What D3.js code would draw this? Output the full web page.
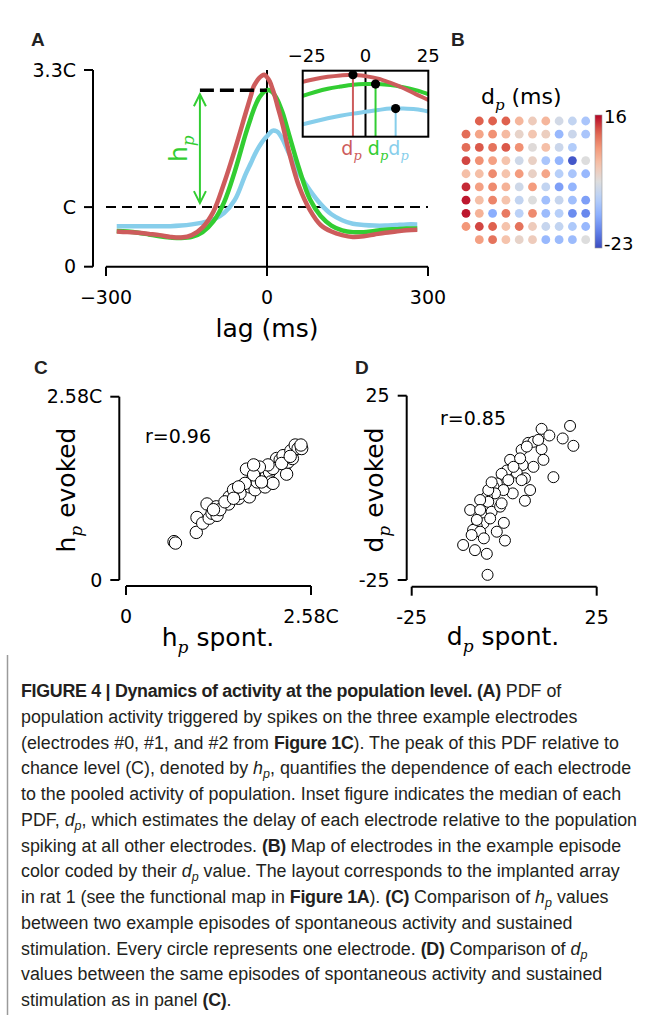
<!DOCTYPE html>
<html>
<head>
<meta charset="utf-8">
<script src="https://cdn.jsdelivr.net/npm/d3@7"></script>
<style>
  body { margin: 0; background: #fff; }
  svg { display: block; }
  text { white-space: pre; }
</style>
</head>
<body>
<svg id="fig" width="655" height="1015"></svg>
<script>
// ---- panel A : PDF of population activity (units of C) ----
const lags = [-280, -260, -240, -220, -200, -180, -160, -140, -120, -100, -80, -60, -40, -30, -25, -20, -15, -10, -5, 0,
  5, 10, 15, 20, 25, 30, 40, 60, 80, 100, 120, 140, 160, 180, 200, 220, 240, 260, 280];
const pdfRed = [0.59, 0.58, 0.57, 0.55, 0.53, 0.50, 0.49, 0.53, 0.66, 0.92, 1.40, 1.96, 2.57, 2.87, 3.02, 3.10, 3.16, 3.20, 3.22, 3.18,
  3.11, 2.99, 2.85, 2.68, 2.52, 2.35, 1.96, 1.34, 0.95, 0.70, 0.59, 0.53, 0.50, 0.51, 0.54, 0.57, 0.59, 0.61, 0.62];
const pdfGreen = [0.60, 0.59, 0.57, 0.54, 0.51, 0.49, 0.48, 0.50, 0.58, 0.76, 1.08, 1.60, 2.22, 2.50, 2.63, 2.74, 2.83, 2.89, 2.94, 2.96,
  2.96, 2.93, 2.87, 2.79, 2.68, 2.56, 2.25, 1.64, 1.13, 0.85, 0.69, 0.61, 0.58, 0.58, 0.60, 0.62, 0.63, 0.64, 0.64];
const pdfBlue = [0.68, 0.68, 0.68, 0.68, 0.68, 0.68, 0.69, 0.71, 0.74, 0.79, 0.90, 1.12, 1.55, 1.74, 1.84, 1.93, 2.01, 2.08, 2.14, 2.19,
  2.24, 2.28, 2.28, 2.26, 2.20, 2.12, 1.92, 1.56, 1.28, 1.05, 0.88, 0.78, 0.72, 0.70, 0.69, 0.69, 0.70, 0.71, 0.71];
const dpMedian = [-5, 4, 12];          // red, green, blue (ms)
const hpLagMark = -125;                // where the h_p arrow sits
const xTicksA = [-300, 0, 300];
const yTicksA = [0, 1, 3.3];
const yTickLabelsA = ["0", "C", "3.3C"];
const insetTicks = [-25, 0, 25];

// ---- panel B : d_p per electrode (ms), null = no electrode ----
const dpGrid = [
  [null, 11, 11, 11, 3, 0, 3, -5, -7, -10],
  [10, 5, 7, 2.5, -1.5, 1, -0.5, -12, -6, -10],
  [10, 11.5, 9.5, 11.5, 7, -3, 2, -6, -9, null],
  [12.5, 7, 5.5, 1.5, -5.5, -1, -10, -12.5, -22, -3.5],
  [2, 2, 7.5, 1.5, 6, -1, 5, -8.5, -10, -12],
  [14, 5.5, 7.5, 3.5, -5.5, 6, -7, -15, -12.5, null],
  [15, 2, 8, 1.5, -7, -3.5, -11, -6.5, -11, -15],
  [15, 3.5, -13.5, 9, -8, 7.5, -11.5, -8.5, -17, -17.5],
  [6.5, 12.5, 11, 1.5, 9.5, 0, -6.5, -7, -9.5, -12],
  [null, 5.5, 9.5, 1.5, -1.5, 0, -12, -11.5, -11.5, -3.5]
];
const cbarTicks = [16, -23];

// ---- panel C : h_p spontaneous vs evoked (units of C) ----
const hpSpont = [0.67, 0.69, 0.98, 0.99, 1.07, 1.13, 1.16, 1.20, 1.26, 1.27, 1.43, 1.44, 1.53, 1.57, 1.61, 1.68, 1.72, 1.73, 1.77, 1.80,
  1.82, 1.83, 1.87, 1.91, 1.94, 1.96, 2.00, 2.02, 2.05, 2.08, 2.10, 2.15, 2.19, 2.22, 2.24, 2.26, 2.30, 2.32, 2.36, 2.40,
  2.45, 2.44, 2.05, 1.98, 1.86, 1.78, 1.66, 1.59, 1.50, 1.31, 1.22, 1.38, 1.78, 2.17, 2.29, 1.89, 1.57, 1.50];
const hpEvoked = [0.54, 0.52, 0.67, 0.88, 0.80, 1.07, 0.87, 0.94, 1.03, 0.91, 1.07, 1.17, 1.28, 1.15, 1.32, 1.56, 1.17, 1.31, 1.43, 1.27,
  1.59, 1.38, 1.50, 1.45, 1.31, 1.48, 1.52, 1.38, 1.36, 1.62, 1.71, 1.69, 1.75, 1.62, 1.49, 1.66, 1.82, 1.71, 1.90, 1.85,
  1.85, 1.90, 1.57, 1.62, 1.59, 1.48, 1.36, 1.22, 1.27, 0.99, 0.99, 1.10, 1.62, 1.64, 1.74, 1.38, 1.31, 1.15];
const hpMax = 2.58;

// ---- panel D : d_p spontaneous vs evoked (ms) ----
const dpSpont = [17.8, 15.8, 18.7, 10.1, 12.2, 6.5, 4.7, 1.6, 10.1, 10.6, 7.9, 5.0, 3.4, 0.7, -0.7, 13.3, 5.6, 4.7, 1.1, -2.0,
  -2.9, 7.0, 5.6, 2.3, -0.2, -2.5, -4.7, -4.3, -6.5, -9.2, -6.5, -3.4, -1.1, -0.7, -0.1, -2.0, -5.6, -7.4, -8.4, -6.5,
  -8.8, -11.1, -7.9, -4.7, -5.5, 0.2, -4.5, -3.8, -7.4, -4.3, -3.4, 2.5, 4.3, 7.9, 6.1, 9.2];
const dpEvoked = [16.8, 13.4, 11.4, 16.0, 14.2, 12.2, 10.3, 7.6, 10.5, 7.6, 5.7, 6.2, 4.1, 4.7, 3.8, 2.9, 2.6, 2.1, 2.1, 1.2,
  0.3, -0.6, -3.5, -1.5, -0.6, -1.5, -2.4, -3.8, -3.3, -6.0, -6.0, -6.5, -5.1, -4.2, -9.5, -11.9, -9.6, -10.5, -11.4, -11.9,
  -12.8, -15.5, -16.9, -17.9, -13.7, -14.3, -23.6, -8.3, -8.7, -0.6, 1.5, 5.7, 8.0, 12.5, 11.2, 13.0];
const dpLim = 25;

const RED = "#cd5c5c", GREEN = "#32cd32", BLUE = "#87ceeb";
const FONT = "DejaVu Sans, sans-serif";
const svg = d3.select("#fig");
svg.append("rect").attr("width", 655).attr("height", 1015).attr("fill", "#fff");

// text with a mathtext-like italic subscript
function mtext(g, x, y, parts, o) {
  const t = g.append("text").attr("x", x).attr("y", y)
    .attr("font-family", FONT).attr("font-size", o.size)
    .attr("fill", o.color || "#000")
    .attr("text-anchor", o.anchor || "start");
  if (o.rotate) t.attr("transform", `rotate(-90,${x},${y})`);
  let shift = 0;
  parts.forEach(([s, k]) => {
    const ts = t.append("tspan").text(s);
    if (k === "sub") {
      shift = o.size * 0.28;
      ts.attr("font-size", o.size * 0.68).attr("font-style", "italic")
        .attr("font-family", "DejaVu Serif, serif").attr("dy", shift);
    } else if (shift) {
      ts.attr("dy", -shift);
      shift = 0;
    }
  });
  return t;
}

function panelLabel(x, y, s) {
  svg.append("text").attr("x", x).attr("y", y).text(s)
    .attr("font-family", "Liberation Sans, Arial, sans-serif")
    .attr("font-weight", "bold").attr("font-size", 19).attr("fill", "#222");
}

// ================= Panel A =================
const xA = d3.scaleLinear().domain([-300, 300]).range([106, 428]);
const yA = d3.scaleLinear().domain([0, 3.3]).range([266.7, 70]);
const gA = svg.append("g");

// y spine + ticks
gA.append("line").attr("x1", 93).attr("x2", 93).attr("y1", yA(0)).attr("y2", yA(3.3))
  .attr("stroke", "#000").attr("stroke-width", 2);
yTicksA.forEach((v, i) => {
  gA.append("line").attr("x1", 84).attr("x2", 93).attr("y1", yA(v)).attr("y2", yA(v))
    .attr("stroke", "#000").attr("stroke-width", 2);
  gA.append("text").attr("x", 76).attr("y", yA(v)).attr("dy", "0.35em").text(yTickLabelsA[i])
    .attr("text-anchor", "end").attr("font-family", FONT).attr("font-size", 19);
});
// x spine + ticks
gA.append("line").attr("x1", xA(-300)).attr("x2", xA(300)).attr("y1", 266.7).attr("y2", 266.7)
  .attr("stroke", "#000").attr("stroke-width", 2);
xTicksA.forEach(v => {
  gA.append("line").attr("x1", xA(v)).attr("x2", xA(v)).attr("y1", 266.7).attr("y2", 276)
    .attr("stroke", "#000").attr("stroke-width", 2);
  gA.append("text").attr("x", xA(v)).attr("y", 303.5).text(v < 0 ? "\u2212" + Math.abs(v) : v)
    .attr("text-anchor", "middle").attr("font-family", FONT).attr("font-size", 19);
});
gA.append("text").attr("x", xA(0)).attr("y", 337).text("lag (ms)")
  .attr("text-anchor", "middle").attr("font-family", FONT).attr("font-size", 25);

// chance level and zero lag
gA.append("line").attr("x1", xA(-300)).attr("x2", xA(300)).attr("y1", yA(1)).attr("y2", yA(1))
  .attr("stroke", "#000").attr("stroke-width", 2).attr("stroke-dasharray", "10,6");
gA.append("line").attr("x1", xA(0)).attr("x2", xA(0)).attr("y1", yA(0)).attr("y2", yA(3.3))
  .attr("stroke", "#000").attr("stroke-width", 2);

const series = [
  { v: pdfBlue, c: BLUE, dp: dpMedian[2] },
  { v: pdfGreen, c: GREEN, dp: dpMedian[1] },
  { v: pdfRed, c: RED, dp: dpMedian[0] }
];
const lineA = d3.line().x(d => xA(d[0])).y(d => yA(d[1])).curve(d3.curveCatmullRom);
series.forEach(s => {
  gA.append("path").attr("d", lineA(lags.map((l, i) => [l, s.v[i]])))
    .attr("fill", "none").attr("stroke", s.c).attr("stroke-width", 4.5);
});

// h_p marker: dashed peak line + double arrow
const greenPeak = d3.max(pdfGreen);
gA.append("line").attr("x1", xA(hpLagMark)).attr("x2", xA(0)).attr("y1", yA(greenPeak)).attr("y2", yA(greenPeak))
  .attr("stroke", "#000").attr("stroke-width", 3.5).attr("stroke-dasharray", "14,6");
const ax = xA(hpLagMark), aTop = yA(greenPeak) + 4, aBot = yA(1) - 4;
gA.append("line").attr("x1", ax).attr("x2", ax).attr("y1", aTop).attr("y2", aBot)
  .attr("stroke", GREEN).attr("stroke-width", 2);
gA.append("path").attr("d", `M${ax - 6},${aTop + 12}L${ax},${aTop}L${ax + 6},${aTop + 12}M${ax - 6},${aBot - 12}L${ax},${aBot}L${ax + 6},${aBot - 12}`)
  .attr("fill", "none").attr("stroke", GREEN).attr("stroke-width", 2);
mtext(gA, 187, yA((greenPeak + 1) / 2), [["h", ""], ["p", "sub"]], { size: 25, color: GREEN, anchor: "middle", rotate: true });

// inset
const xI = d3.scaleLinear().domain([-25, 25]).range([302.7, 428.3]);
const yI = d3.scaleLinear().domain([1.5, 3.33]).range([136.7, 70.7]);
const gI = svg.append("g");
gI.append("clipPath").attr("id", "insetClip").append("rect")
  .attr("x", xI(-25)).attr("y", yI(3.33)).attr("width", xI(25) - xI(-25)).attr("height", yI(1.5) - yI(3.33));
const lineI = d3.line().x(d => xI(d[0])).y(d => yI(d[1])).curve(d3.curveCatmullRom);
const gIc = gI.append("g").attr("clip-path", "url(#insetClip)");
gIc.append("line").attr("x1", xI(0)).attr("x2", xI(0)).attr("y1", yI(3.33)).attr("y2", yI(1.5))
  .attr("stroke", "#000").attr("stroke-width", 2);
series.forEach(s => {
  gIc.append("path").attr("d", lineI(lags.map((l, i) => [l, s.v[i]])))
    .attr("fill", "none").attr("stroke", s.c).attr("stroke-width", 4);
});
function valueAt(v, lag) {
  const i = d3.bisectLeft(lags, lag);
  if (lags[i] === lag) return v[i];
  const t = (lag - lags[i - 1]) / (lags[i] - lags[i - 1]);
  return v[i - 1] + t * (v[i] - v[i - 1]);
}
series.forEach(s => {
  const val = valueAt(s.v, s.dp);
  gI.append("line").attr("x1", xI(s.dp)).attr("x2", xI(s.dp)).attr("y1", yI(val)).attr("y2", yI(1.5))
    .attr("stroke", s.c).attr("stroke-width", 2);
});
series.forEach(s => {
  gI.append("circle").attr("cx", xI(s.dp)).attr("cy", yI(valueAt(s.v, s.dp))).attr("r", 4.6).attr("fill", "#000");
});
gI.append("rect").attr("x", xI(-25)).attr("y", yI(3.33)).attr("width", xI(25) - xI(-25)).attr("height", yI(1.5) - yI(3.33))
  .attr("fill", "none").attr("stroke", "#000").attr("stroke-width", 2);
insetTicks.forEach(v => {
  gI.append("text").attr("x", xI(v) + (v < 0 ? 4 : 0)).attr("y", 61.5).text(v < 0 ? "\u2212" + Math.abs(v) : v)
    .attr("text-anchor", "middle").attr("font-family", FONT).attr("font-size", 18);
});
// d_p labels under the inset, red / green / blue
[[RED, 351.5], [GREEN, 378], [BLUE, 398.5]].forEach(([c, x]) => {
  mtext(gI, x, 155, [["d", ""], ["p", "sub"]], { size: 19, color: c, anchor: "middle" });
});

// ================= Panel B =================
const coolwarm = ["#3b4cc0", "#6282ea", "#8db0fe", "#b8d0f9", "#dddddd", "#f5c4ad", "#f49a7b", "#de604d", "#b40426"];
const cmap = d3.scaleSequential(d3.piecewise(d3.interpolateRgb, coolwarm)).domain([-23, 16]);
const colX = d3.scaleLinear().domain([0, 9]).range([466, 585.7]);
const rowY = d3.scaleLinear().domain([0, 9]).range([121, 239.7]);
const gB = svg.append("g");
dpGrid.forEach((row, r) => row.forEach((v, c) => {
  if (v === null) return;
  gB.append("circle").attr("cx", colX(c)).attr("cy", rowY(r)).attr("r", 4.4).attr("fill", cmap(v));
}));
mtext(gB, 481, 104, [["d", ""], ["p", "sub"], [" (ms)", ""]], { size: 22 });

const grad = svg.append("defs").append("linearGradient").attr("id", "cbar")
  .attr("x1", 0).attr("y1", 1).attr("x2", 0).attr("y2", 0);
d3.range(0, 1.0001, 0.05).forEach(t => {
  grad.append("stop").attr("offset", t).attr("stop-color", cmap(-23 + t * 39));
});
const yCb = d3.scaleLinear().domain([-23, 16]).range([248, 115]);
gB.append("rect").attr("x", 595).attr("y", yCb(16)).attr("width", 7).attr("height", yCb(-23) - yCb(16))
  .attr("fill", "url(#cbar)").attr("stroke", "#999").attr("stroke-width", 0.6);
cbarTicks.forEach(v => {
  gB.append("text").attr("x", 604).attr("y", yCb(v) + (v < 0 ? -4 : 2)).attr("dy", "0.35em").text(v)
    .attr("font-family", FONT).attr("font-size", 18);
});

// ================= Panel C & D (scatter) =================
function scatter(o) {
  const g = svg.append("g");
  const x = d3.scaleLinear().domain(o.dom).range(o.xr);
  const y = d3.scaleLinear().domain(o.dom).range(o.yr);
  g.append("line").attr("x1", o.ySpine).attr("x2", o.ySpine).attr("y1", o.yr[0]).attr("y2", o.yr[1])
    .attr("stroke", "#000").attr("stroke-width", 2);
  g.append("line").attr("x1", o.xr[0]).attr("x2", o.xr[1]).attr("y1", o.xSpine).attr("y2", o.xSpine)
    .attr("stroke", "#000").attr("stroke-width", 2);
  o.dom.forEach((v, i) => {
    g.append("line").attr("x1", o.ySpine - 9).attr("x2", o.ySpine).attr("y1", y(v)).attr("y2", y(v))
      .attr("stroke", "#000").attr("stroke-width", 2);
    g.append("line").attr("x1", x(v)).attr("x2", x(v)).attr("y1", o.xSpine).attr("y2", o.xSpine + 9)
      .attr("stroke", "#000").attr("stroke-width", 2);
    g.append("text").attr("x", o.ySpine - 17).attr("y", y(v)).attr("dy", "0.35em").text(o.labels[i])
      .attr("text-anchor", "end").attr("font-family", FONT).attr("font-size", 19);
    g.append("text").attr("x", x(v)).attr("y", o.xSpine + 37).text(o.labels[i])
      .attr("text-anchor", "middle").attr("font-family", FONT).attr("font-size", 19);
  });
  o.xs.forEach((v, i) => {
    g.append("circle").attr("cx", x(v)).attr("cy", y(o.ys[i])).attr("r", o.r)
      .attr("fill", "#fff").attr("stroke", "#000").attr("stroke-width", 1);
  });
  g.append("text").attr("x", o.rPos[0]).attr("y", o.rPos[1]).attr("dy", "0.35em").text(o.rText)
    .attr("font-family", FONT).attr("font-size", 19);
  mtext(g, o.ylab[0], o.ylab[1], [[o.sym, ""], ["p", "sub"], [" evoked", ""]], { size: 25, anchor: "middle", rotate: true });
  mtext(g, o.xlab[0], o.xlab[1], [[o.sym, ""], ["p", "sub"], [" spont.", ""]], { size: 25, anchor: "middle" });
}

scatter({
  dom: [0, hpMax], labels: ["0", "2.58C"], xr: [126, 311], yr: [580, 396.7],
  ySpine: 119.3, xSpine: 586, xs: hpSpont, ys: hpEvoked, r: 6.2,
  rText: "r=0.96", rPos: [145, 436.7], sym: "h", ylab: [75, 490], xlab: [218, 646]
});
scatter({
  dom: [-dpLim, dpLim], labels: ["-25", "25"], xr: [411.7, 596.7], yr: [580, 395.7],
  ySpine: 406.7, xSpine: 586.7, xs: dpSpont, ys: dpEvoked, r: 5.5,
  rText: "r=0.85", rPos: [440, 418.3], sym: "d", ylab: [383, 490], xlab: [503, 645]
});

panelLabel(31, 46, "A");
panelLabel(451, 46, "B");
panelLabel(34, 374, "C");
panelLabel(355, 374, "D");

// ================= caption =================
const captionLines = [
  [["FIGURE 4 | Dynamics of activity at the population level. (A)", "b"], [" PDF of", ""]],
  [["population activity triggered by spikes on the three example electrodes", ""]],
  [["(electrodes #0, #1, and #2 from ", ""], ["Figure 1C", "b"], ["). The peak of this PDF relative to", ""]],
  [["chance level (C), denoted by ", ""], ["h", "i"], ["p", "s"], [", quantifies the dependence of each electrode", ""]],
  [["to the pooled activity of population. Inset figure indicates the median of each", ""]],
  [["PDF, ", ""], ["d", "i"], ["p", "s"], [", which estimates the delay of each electrode relative to the population", ""]],
  [["spiking at all other electrodes. ", ""], ["(B)", "b"], [" Map of electrodes in the example episode", ""]],
  [["color coded by their ", ""], ["d", "i"], ["p", "s"], [" value. The layout corresponds to the implanted array", ""]],
  [["in rat 1 (see the functional map in ", ""], ["Figure 1A", "b"], ["). ", ""], ["(C)", "b"], [" Comparison of ", ""], ["h", "i"], ["p", "s"], [" values", ""]],
  [["between two example episodes of spontaneous activity and sustained", ""]],
  [["stimulation. Every circle represents one electrode. ", ""], ["(D)", "b"], [" Comparison of ", ""], ["d", "i"], ["p", "s"]],
  [["values between the same episodes of spontaneous activity and sustained", ""]],
  [["stimulation as in panel ", ""], ["(C)", "b"], [".", ""]]
];
svg.append("line").attr("x1", 7.5).attr("x2", 7.5).attr("y1", 655).attr("y2", 1015)
  .attr("stroke", "#9a9a9a").attr("stroke-width", 1.5);
const gCap = svg.append("g").attr("font-family", "'Liberation Sans Narrow', 'Arial Narrow', sans-serif")
  .attr("font-size", 17.85).attr("fill", "#231f20");
captionLines.forEach((segs, i) => {
  const t = gCap.append("text").attr("x", 21).attr("y", 697 + i * 25.75);
  let down = false;
  segs.forEach(([s, k]) => {
    const ts = t.append("tspan").text(s);
    if (k === "b") ts.attr("font-weight", "bold").attr("letter-spacing", -0.3);
    if (k === "i") ts.attr("font-style", "italic");
    if (k === "s") { ts.attr("font-style", "italic").attr("font-size", 12.5).attr("dy", 4); down = true; }
    else if (down) { ts.attr("dy", -4); down = false; }
  });
});
</script>
</body>
</html>
